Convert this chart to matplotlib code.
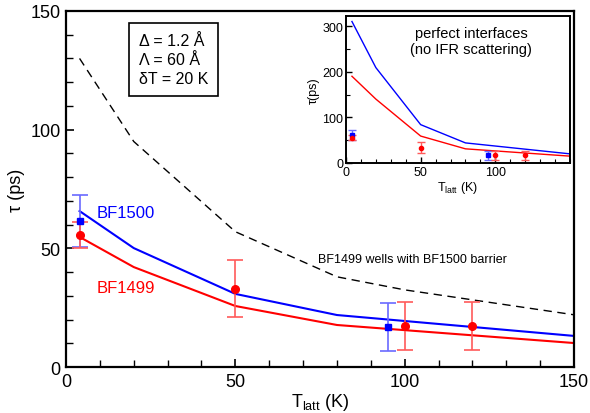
import numpy as np
import matplotlib
matplotlib.use('Agg')
import matplotlib.pyplot as plt

plt.rcParams['font.family'] = ['Liberation Sans', 'DejaVu Sans']

# main panel data (tau in ps vs lattice temperature in K)
T_calc = [4, 20, 50, 80, 150]
tau_bf1500 = [65.7, 50.1, 30.8, 21.9, 13.1]
tau_bf1499 = [54.8, 42.1, 25.7, 17.7, 10.1]
T_mixed = [4, 20, 50, 80, 100, 150]
tau_mixed = [130, 95, 57, 38, 32.5, 22]

# measured points
T_meas_1500 = [4, 95]
tau_meas_1500 = [61.5, 16.9]
err_1500 = [11, 10]
T_meas_1499 = [4, 50, 100, 120]
tau_meas_1499 = [55.6, 32.9, 17.3, 17.3]
err_1499 = [5.5, 12, 10, 10]

# inset: no interface roughness scattering
tau_perf_1500 = [310, 209, 84, 44, 20]
tau_perf_1499 = [190, 140, 59, 31, 15]

blue = '#0000ff'
red = '#ff0000'

fig = plt.figure(figsize=(5.9, 4.14), dpi=100)
ax = fig.add_axes([0.1119, 0.1111, 0.861, 0.86])

ax.plot(T_mixed, tau_mixed, color='black', ls=(0, (6, 4)), lw=1.0)
ax.plot(T_calc, tau_bf1500, color=blue, lw=1.5)
ax.plot(T_calc, tau_bf1499, color=red, lw=1.5)
ax.errorbar(T_meas_1500, tau_meas_1500, yerr=err_1500, fmt='s', color=blue, ms=4.5,
            ecolor='#6a6aff', elinewidth=1.2, capsize=6, capthick=1.2)
ax.errorbar(T_meas_1499, tau_meas_1499, yerr=err_1499, fmt='o', color=red, ms=5.5,
            ecolor='#ff5a5a', elinewidth=1.2, capsize=6, capthick=1.2)

ax.set_xlim(0, 150)
ax.set_ylim(0, 150)
ax.set_xticks([0, 50, 100, 150])
ax.set_yticks([0, 50, 100, 150])
ax.set_xticks(np.arange(0, 151, 10), minor=True)
ax.set_yticks(np.arange(0, 151, 10), minor=True)
ax.tick_params(direction='in', which='both', labelsize=13, pad=4)
ax.tick_params(which='major', length=6, width=1.2)
ax.tick_params(which='minor', length=5, width=1.0)
for s in ax.spines.values():
    s.set_linewidth(1.6)
ax.set_xlabel('T$_{\\mathregular{latt}}$ (K)', fontsize=13, labelpad=1)
ax.set_ylabel('τ (ps)', fontsize=13, labelpad=4)

ax.text(9, 65, 'BF1500', color=blue, fontsize=12, va='center')
ax.text(9, 33.7, 'BF1499', color=red, fontsize=12, va='center')
ax.text(74.4, 45.5, 'BF1499 wells with BF1500 barrier', fontsize=9, va='center')
ax.text(21.5, 129.5, 'Δ = 1.2 Å\nΛ = 60 Å\nδT = 20 K', fontsize=11.5, va='center',
        linespacing=1.35,
        bbox=dict(boxstyle='square,pad=0.6', fc='white', ec='black', lw=1.2))

# inset
ins = fig.add_axes([0.5864, 0.6039, 0.3797, 0.355])
ins.plot(T_calc, tau_perf_1500, color=blue, lw=1.0)
ins.plot(T_calc, tau_perf_1499, color=red, lw=1.0)
ins.errorbar(T_meas_1500, tau_meas_1500, yerr=err_1500, fmt='s', color=blue, ms=3,
             ecolor='#6a6aff', elinewidth=1.0, capsize=3, capthick=1.0)
ins.errorbar(T_meas_1499, tau_meas_1499, yerr=err_1499, fmt='o', color=red, ms=3,
             ecolor='#ff5a5a', elinewidth=1.0, capsize=3, capthick=1.0)
ins.set_xlim(0, 150)
ins.set_ylim(0, 322)
ins.set_xticks([0, 50, 100])
ins.set_yticks([0, 100, 200, 300])
ins.set_xticks(np.arange(0, 151, 10), minor=True)
ins.set_yticks(np.arange(0, 321, 50), minor=True)
ins.tick_params(direction='in', which='both', labelsize=9, pad=2)
ins.tick_params(which='major', length=4, width=1.0)
ins.tick_params(which='minor', length=3, width=0.8)
for s in ins.spines.values():
    s.set_linewidth(1.4)
ins.set_xlabel('T$_{\\mathregular{latt}}$ (K)', fontsize=9, labelpad=1)
ins.set_ylabel('τ(ps)', fontsize=9, labelpad=2)
ins.text(0.56, 0.83, 'perfect interfaces\n(no IFR scattering)', transform=ins.transAxes,
         ha='center', va='center', fontsize=10.5, linespacing=1.2)

fig.savefig('out.png', dpi=100)
